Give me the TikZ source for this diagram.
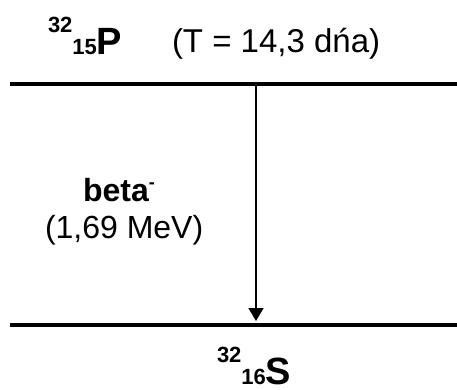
\documentclass[tikz,border=0pt]{standalone}
\usepackage{fontspec}
\setmainfont{Liberation Sans}
\usepackage{tikz}
\usetikzlibrary{arrows.meta,positioning}
\newcommand{\nuclide}[3]{{\bfseries\fontsize{22}{22}\selectfont\raisebox{22pt}{#1}#2}{\bfseries\fontsize{38}{38}\selectfont #3}}
\begin{document}
\begin{tikzpicture}[x=1pt,y=-1pt,
  every node/.style={inner sep=0pt,outer sep=0pt},
  txt/.style={font=\fontsize{33}{38}\selectfont,anchor=base west},
  level/.style={line width=4pt},
  decay/.style={line width=1.6pt,-{Triangle[width=15pt,length=13pt]},shorten >=2pt}]
\useasboundingbox (0,0) rectangle (457,390);
% energy levels
\coordinate (pL) at (10,84);
\coordinate (pR) at (457,84);
\coordinate (sL) at (10,325);
\coordinate (sR) at (457,325);
\draw[level] (pL)--(pR);
\draw[level] (sL)--(sR);
% labels
\node[anchor=base west] (p) at (48,55) {\nuclide{32}{15}{P}};
\node[txt] (half) at (172,53) {(T = 14,3 dńa)};
\node[anchor=base west] (s) at (217,384) {\nuclide{32}{16}{S}};
\node[anchor=base west,font=\bfseries\fontsize{32}{36}\selectfont] (beta) at (83,201) {beta\raisebox{13pt}{\fontsize{18}{18}\selectfont -}};
\node[txt,font=\fontsize{32}{36}\selectfont] (energy) at (45,238) {(1,69 MeV)};
% transition
\coordinate (from) at (256,84);
\coordinate (to) at (256,323);
\draw[decay] (from)--(to);
\end{tikzpicture}
\end{document}
